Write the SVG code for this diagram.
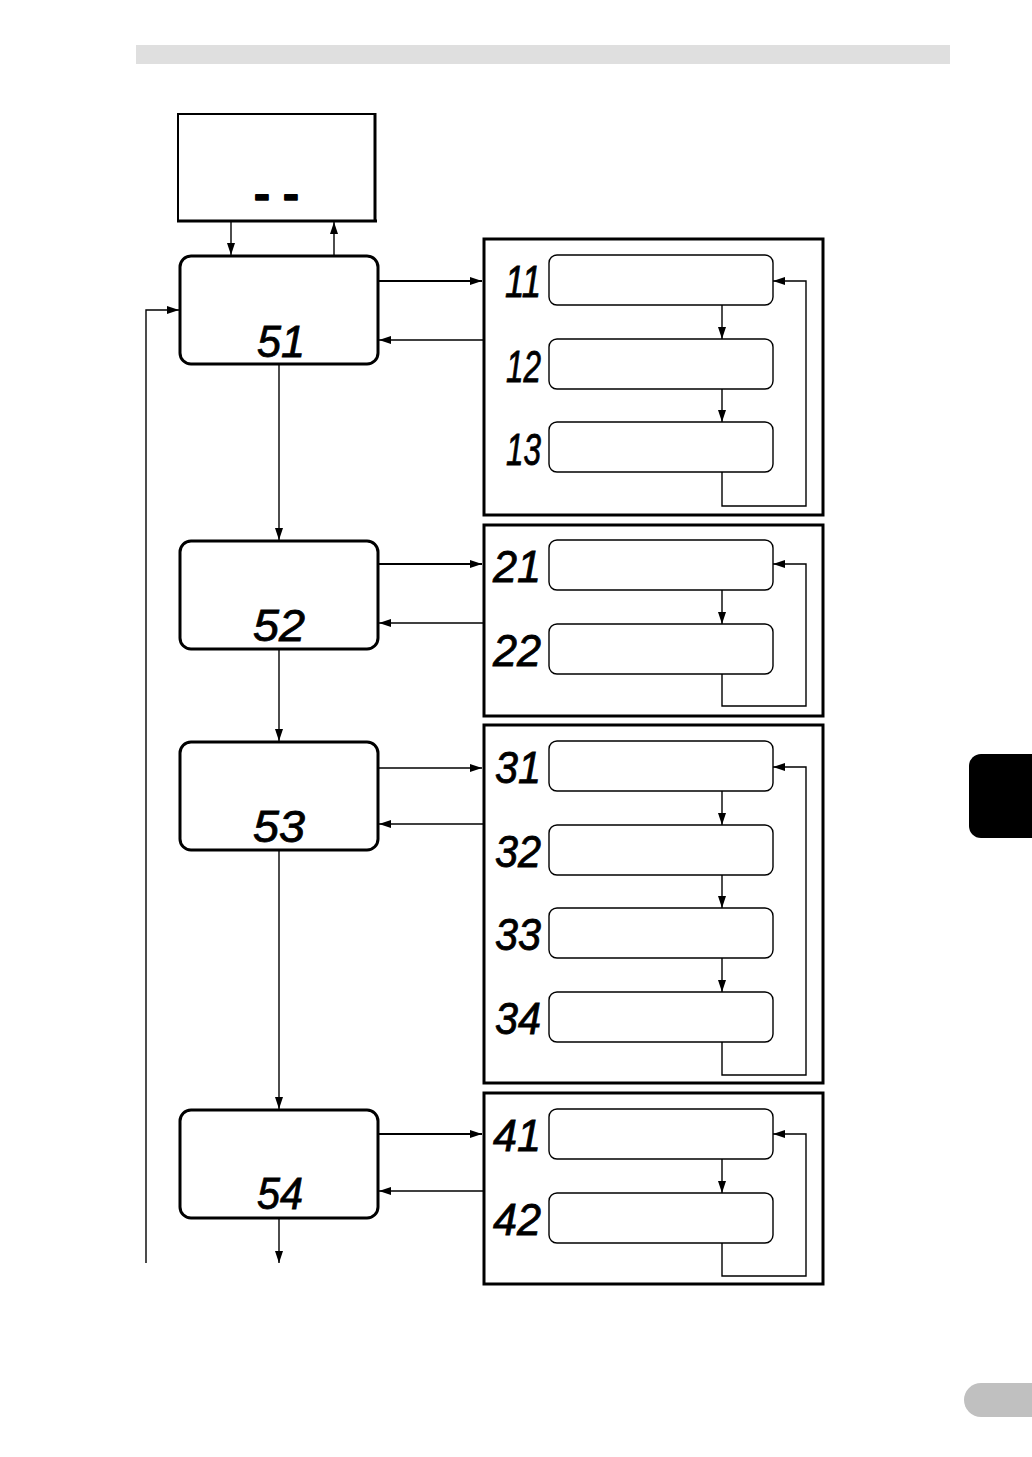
<svg xmlns="http://www.w3.org/2000/svg" width="1032" height="1457" viewBox="0 0 1032 1457">
<style>
.sbox{fill:#fff;stroke:#000;stroke-width:3}
.grp{fill:#fff;stroke:#000;stroke-width:3}
.ibox{fill:#fff;stroke:#000;stroke-width:1.4}
.ln{fill:none;stroke:#000;stroke-width:1.4}
.ln2{fill:none;stroke:#000;stroke-width:2}
.seg{font-family:"Liberation Sans",Arial,sans-serif;font-style:italic;font-size:44px;fill:#000;stroke:#000;stroke-width:0.8}
.dash{font-family:"Liberation Sans",Arial,sans-serif;font-weight:bold;font-size:44px;fill:#000;stroke:#000;stroke-width:1.5;stroke-linejoin:round}
</style>
<defs>
<marker id="ah" markerWidth="12" markerHeight="8" refX="12" refY="4" orient="auto" markerUnits="userSpaceOnUse">
<path d="M0,0 L12,4 L0,8 z" fill="#000"/>
</marker>
</defs>
<rect x="0" y="0" width="1032" height="1457" fill="#fff"/>
<rect x="136" y="45" width="814" height="19" fill="#dfdfdf"/>
<path d="M969,766 a12,12 0 0 1 12,-12 H1032 V838 H981 a12,12 0 0 1 -12,-12 z" fill="#000"/>
<path d="M981,1383 H1032 V1417 H981 a17,17 0 0 1 0,-34 z" fill="#c0c0c0"/>

<g id="top">
<rect x="178" y="114" width="197" height="107" fill="#fff" stroke="#000" stroke-width="2"/>
<line x1="375" y1="113" x2="375" y2="222" stroke="#000" stroke-width="3"/>
<line x1="177" y1="221" x2="377" y2="221" stroke="#000" stroke-width="3"/>
<text class="dash" x="254" y="209" textLength="45" lengthAdjust="spacingAndGlyphs">- -</text>
</g>

<g id="s1"><rect class="sbox" x="180" y="256" width="198" height="108" rx="11"/><text class="seg" x="281" y="357" text-anchor="middle" textLength="48" lengthAdjust="spacingAndGlyphs">51</text></g>
<g id="s2"><rect class="sbox" x="180" y="541" width="198" height="108" rx="11"/><text class="seg" x="279" y="641" text-anchor="middle" textLength="52" lengthAdjust="spacingAndGlyphs">52</text></g>
<g id="s3"><rect class="sbox" x="180" y="742" width="198" height="108" rx="11"/><text class="seg" x="279" y="842" text-anchor="middle" textLength="52" lengthAdjust="spacingAndGlyphs">53</text></g>
<g id="s4"><rect class="sbox" x="180" y="1110" width="198" height="108" rx="11"/><text class="seg" x="280" y="1209" text-anchor="middle" textLength="46" lengthAdjust="spacingAndGlyphs">54</text></g>

<g id="g1">
<rect class="grp" x="484" y="239" width="339" height="276"/>
<rect class="ibox" x="549" y="255" width="224" height="50" rx="8"/>
<rect class="ibox" x="549" y="339" width="224" height="50" rx="8"/>
<rect class="ibox" x="549" y="422" width="224" height="50" rx="8"/>
<text class="seg" x="541" y="297" text-anchor="end" textLength="36" lengthAdjust="spacingAndGlyphs">11</text>
<text class="seg" x="541" y="382" text-anchor="end" textLength="35" lengthAdjust="spacingAndGlyphs">12</text>
<text class="seg" x="541" y="465" text-anchor="end" textLength="35" lengthAdjust="spacingAndGlyphs">13</text>
</g>
<g id="g2">
<rect class="grp" x="484" y="525" width="339" height="191"/>
<rect class="ibox" x="549" y="540" width="224" height="50" rx="8"/>
<rect class="ibox" x="549" y="624" width="224" height="50" rx="8"/>
<text class="seg" x="541" y="582" text-anchor="end" textLength="48" lengthAdjust="spacingAndGlyphs">21</text>
<text class="seg" x="541" y="666" text-anchor="end" textLength="48" lengthAdjust="spacingAndGlyphs">22</text>
</g>
<g id="g3">
<rect class="grp" x="484" y="725" width="339" height="358"/>
<rect class="ibox" x="549" y="741" width="224" height="50" rx="8"/>
<rect class="ibox" x="549" y="825" width="224" height="50" rx="8"/>
<rect class="ibox" x="549" y="908" width="224" height="50" rx="8"/>
<rect class="ibox" x="549" y="992" width="224" height="50" rx="8"/>
<text class="seg" x="541" y="783" text-anchor="end" textLength="46" lengthAdjust="spacingAndGlyphs">31</text>
<text class="seg" x="541" y="867" text-anchor="end" textLength="46" lengthAdjust="spacingAndGlyphs">32</text>
<text class="seg" x="541" y="950" text-anchor="end" textLength="46" lengthAdjust="spacingAndGlyphs">33</text>
<text class="seg" x="541" y="1034" text-anchor="end" textLength="46" lengthAdjust="spacingAndGlyphs">34</text>
</g>
<g id="g4">
<rect class="grp" x="484" y="1093" width="339" height="191"/>
<rect class="ibox" x="549" y="1109" width="224" height="50" rx="8"/>
<rect class="ibox" x="549" y="1193" width="224" height="50" rx="8"/>
<text class="seg" x="541" y="1151" text-anchor="end" textLength="48" lengthAdjust="spacingAndGlyphs">41</text>
<text class="seg" x="541" y="1235" text-anchor="end" textLength="48" lengthAdjust="spacingAndGlyphs">42</text>
</g>

<g id="connectors">
<line class="ln" x1="231" y1="221" x2="231" y2="255" marker-end="url(#ah)"/>
<line class="ln" x1="334" y1="255" x2="334" y2="222" marker-end="url(#ah)"/>
<line class="ln2" x1="378" y1="281" x2="482" y2="281" marker-end="url(#ah)"/>
<line class="ln" x1="483" y1="340" x2="379" y2="340" marker-end="url(#ah)"/>
<line class="ln" x1="279" y1="365" x2="279" y2="540" marker-end="url(#ah)"/>
<line class="ln2" x1="378" y1="564" x2="482" y2="564" marker-end="url(#ah)"/>
<line class="ln" x1="483" y1="623" x2="379" y2="623" marker-end="url(#ah)"/>
<line class="ln" x1="279" y1="649" x2="279" y2="741" marker-end="url(#ah)"/>
<line class="ln" x1="378" y1="768" x2="482" y2="768" marker-end="url(#ah)"/>
<line class="ln" x1="483" y1="824" x2="379" y2="824" marker-end="url(#ah)"/>
<line class="ln" x1="279" y1="850" x2="279" y2="1109" marker-end="url(#ah)"/>
<line class="ln2" x1="378" y1="1134" x2="482" y2="1134" marker-end="url(#ah)"/>
<line class="ln" x1="483" y1="1191" x2="379" y2="1191" marker-end="url(#ah)"/>
<line class="ln" x1="279" y1="1218" x2="279" y2="1263" marker-end="url(#ah)"/>
<polyline class="ln" points="146,1263 146,310 179,310" marker-end="url(#ah)"/>

<line class="ln" x1="722" y1="305" x2="722" y2="339" marker-end="url(#ah)"/>
<line class="ln" x1="722" y1="389" x2="722" y2="422" marker-end="url(#ah)"/>
<polyline class="ln" points="722,472 722,506 806,506 806,281 773,281" marker-end="url(#ah)"/>

<line class="ln" x1="722" y1="590" x2="722" y2="624" marker-end="url(#ah)"/>
<polyline class="ln" points="722,674 722,706 806,706 806,564 773,564" marker-end="url(#ah)"/>

<line class="ln" x1="722" y1="791" x2="722" y2="825" marker-end="url(#ah)"/>
<line class="ln" x1="722" y1="875" x2="722" y2="908" marker-end="url(#ah)"/>
<line class="ln" x1="722" y1="958" x2="722" y2="992" marker-end="url(#ah)"/>
<polyline class="ln" points="722,1042 722,1075 806,1075 806,767 773,767" marker-end="url(#ah)"/>

<line class="ln" x1="722" y1="1159" x2="722" y2="1193" marker-end="url(#ah)"/>
<polyline class="ln" points="722,1243 722,1276 806,1276 806,1134 773,1134" marker-end="url(#ah)"/>
</g>
</svg>
